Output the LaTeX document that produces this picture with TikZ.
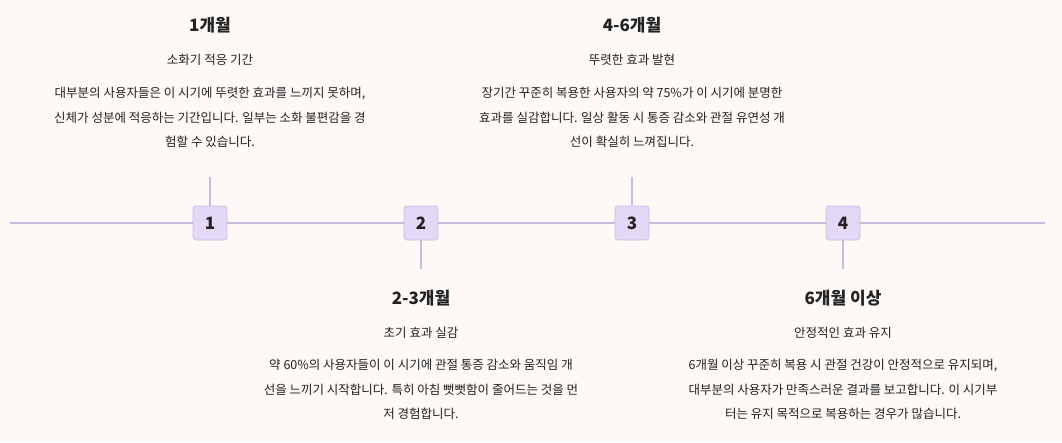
\documentclass[tikz,border=0pt]{standalone}
\usepackage{fontspec}
\setmainfont{Noto Sans CJK KR}
\definecolor{bg}{HTML}{FDF9F6}
\definecolor{ln}{HTML}{C5BBDB}
\definecolor{bx}{HTML}{E1D9F5}
\definecolor{bd}{HTML}{C8BEE0}
\definecolor{tx}{HTML}{222222}
\tikzset{
  mk/.style={draw=bd,fill=bx,rounded corners=3pt,minimum size=34pt,inner sep=0pt,line width=0.8pt,font=\fontsize{17}{17}\selectfont\bfseries,text=tx},
  ttl/.style={font=\fontsize{17}{20}\selectfont\bfseries,text=tx},
  sub/.style={font=\fontsize{12.5}{15}\selectfont,text=tx},
  bdy/.style={font=\fontsize{12.5}{24.5}\selectfont,text=tx,align=center},
  stem/.style={draw=ln,line width=1.5pt}
}
\begin{document}
\begin{tikzpicture}[x=1pt,y=-1pt]
\fill[bg] (0,0) rectangle (1062,442);
\useasboundingbox (0,0) rectangle (1062,442);
\coordinate (L) at (10,223);
\coordinate (R) at (1045,223);
\draw[stem] (L) -- (R);
\coordinate (s1) at (210,177);
\coordinate (s2) at (421,269);
\coordinate (s3) at (632,177);
\coordinate (s4) at (843,269);
\node[mk] (m1) at (210,223) {1};
\node[mk] (m2) at (421,223) {2};
\node[mk] (m3) at (632,223) {3};
\node[mk] (m4) at (843,223) {4};
\draw[stem] (m1) -- (s1);
\draw[stem] (m2) -- (s2);
\draw[stem] (m3) -- (s3);
\draw[stem] (m4) -- (s4);
\node[ttl] (t1) at (210,25) {1개월};
\node[sub] (u1) at (210,60) {소화기 적응 기간};
\node[bdy,anchor=north] (b1) at (210,84) {대부분의 사용자들은 이 시기에 뚜렷한 효과를 느끼지 못하며,\\신체가 성분에 적응하는 기간입니다. 일부는 소화 불편감을 경\\험할 수 있습니다.};
\node[ttl] (t3) at (632,25) {4-6개월};
\node[sub] (u3) at (632,60) {뚜렷한 효과 발현};
\node[bdy,anchor=north] (b3) at (632,84) {장기간 꾸준히 복용한 사용자의 약 75\%가 이 시기에 분명한\\효과를 실감합니다. 일상 활동 시 통증 감소와 관절 유연성 개\\선이 확실히 느껴집니다.};
\node[ttl] (t2) at (421,298) {2-3개월};
\node[sub] (u2) at (421,333) {초기 효과 실감};
\node[bdy,anchor=north] (b2) at (421,356) {약 60\%의 사용자들이 이 시기에 관절 통증 감소와 움직임 개\\선을 느끼기 시작합니다. 특히 아침 뻣뻣함이 줄어드는 것을 먼\\저 경험합니다.};
\node[ttl] (t4) at (843,298) {6개월 이상};
\node[sub] (u4) at (843,333) {안정적인 효과 유지};
\node[bdy,anchor=north] (b4) at (843,356) {6개월 이상 꾸준히 복용 시 관절 건강이 안정적으로 유지되며,\\대부분의 사용자가 만족스러운 결과를 보고합니다. 이 시기부\\터는 유지 목적으로 복용하는 경우가 많습니다.};
\end{tikzpicture}
\end{document}
